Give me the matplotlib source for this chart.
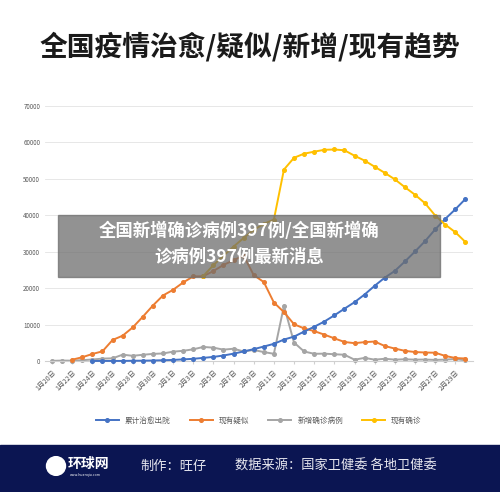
import matplotlib
matplotlib.use("Agg")
import matplotlib.pyplot as plt
import numpy as np
from matplotlib.patches import Rectangle, Circle

plt.rcParams['font.family'] = ['Noto Sans CJK SC', 'DejaVu Sans']

nan = np.nan
dates = ["1月20日","1月21日","1月22日","1月23日","1月24日","1月25日","1月26日","1月27日","1月28日","1月29日",
         "1月30日","1月31日","2月1日","2月2日","2月3日","2月4日","2月5日","2月6日","2月7日","2月8日",
         "2月9日","2月10日","2月11日","2月12日","2月13日","2月14日","2月15日","2月16日","2月17日","2月18日",
         "2月19日","2月20日","2月21日","2月22日","2月23日","2月24日","2月25日","2月26日","2月27日","2月28日",
         "2月29日","3月1日"]
cured = [nan,nan,nan,nan,38,49,51,60,103,124,171,243,328,475,632,892,1153,1540,2050,2649,3281,3996,4740,5911,
         6723,8096,9419,10844,12552,14376,16155,18264,20659,22888,24734,27323,30053,32898,36117,39002,41625,44462]
suspected = [nan,nan,393,1072,1965,2684,5794,6973,9239,12167,15238,17988,19544,21558,23214,23260,24702,26359,
             27657,28942,23589,21675,16067,13435,10109,8969,8228,7264,6242,5248,4922,5206,5365,4148,3434,2824,
             2491,2358,2308,1418,851,715]
new_conf = [77,149,131,259,444,688,769,1771,1459,1737,1982,2102,2590,2829,3235,3887,3694,3143,3399,2656,3062,
            2478,2015,15152,5090,2641,2009,2048,1886,1749,394,889,397,648,409,508,406,433,327,427,573,202]
existing = [nan,nan,nan,nan,nan,nan,nan,nan,nan,nan,nan,nan,nan,nan,nan,23353,26301,28881,31401,
            33738,35982,37626,38800,52526,55748,56873,57416,57934,58016,57805,56303,54965,53284,51606,49824,47672,
            45604,43258,39919,37414,35329,32652]
series_names = ["累计治愈出院", "现有疑似", "新增确诊病例", "现有确诊"]
colors = ["#4472C4", "#ED7D31", "#A5A5A5", "#FFC000"]

fig = plt.figure(figsize=(5, 4.92), dpi=100)
fig.patch.set_facecolor("white")
fig.text(0.5, 0.905, "全国疫情治愈/疑似/新增/现有趋势", ha="center", va="center",
         fontsize=20, fontweight="heavy", color="#1a1a1a")

ax = fig.add_axes([0.09, 0.266, 0.855, 0.519])
x = np.arange(len(dates))
for vals, name, c, z in zip([cured, suspected, new_conf, existing], series_names, colors, [4, 3, 2, 5]):
    ax.plot(x, vals, color=c, lw=1.4, marker="o", ms=2.6, label=name, zorder=z, clip_on=False)
ax.set_ylim(0, 70000)
ax.set_xlim(-0.7, len(dates) - 0.3)
ax.set_yticks(np.arange(0, 70001, 10000))
ax.tick_params(axis="y", length=0, labelsize=4.5, labelcolor="#595959")
ax.grid(axis="y", color="#e3e3e3", lw=0.6)
ax.set_axisbelow(True)
ax.set_xticks(x[::2])
ax.set_xticklabels(dates[::2], rotation=45, ha="right", rotation_mode="anchor", fontsize=5, color="#595959")
ax.tick_params(axis="x", length=2, color="#d0d0d0")
for s in ["top", "right", "left"]:
    ax.spines[s].set_visible(False)
ax.spines["bottom"].set_color("#d0d0d0")
ax.legend(loc="upper center", bbox_to_anchor=(0.5, -0.19), ncol=4, frameon=False, fontsize=5.5,
          handlelength=3, columnspacing=2.5, labelcolor="#595959")

# banner overlay
fig.patches.append(Rectangle((58/500, 1-277/492), 382/500, 62/492, transform=fig.transFigure,
                             color="#6e6e6e", alpha=0.75, zorder=10))
fig.text(0.478, 1-231/492, "全国新增确诊病例397例/全国新增确", ha="center", va="center", fontsize=12.5,
         fontweight="bold", color="white", zorder=11)
fig.text(0.478, 1-257/492, "诊病例397例最新消息", ha="center", va="center", fontsize=12.5,
         fontweight="bold", color="white", zorder=11)

# footer
fig.patches.append(Rectangle((0, 0), 1, 47/492, transform=fig.transFigure, color="#0b1552", zorder=10))
fig.patches.append(Circle((56/500, 1-466/492), 0.019, transform=fig.transFigure, color="white", zorder=11))
fig.text(68/500, 1-464/492, "环球网", ha="left", va="center", fontsize=10, fontweight="bold", color="white", zorder=11)
fig.text(70/500, 1-475/492, "www.huanqiu.com", ha="left", va="center", fontsize=2.5, color="white", zorder=11)
fig.text(140/500, 1-466/492, "制作：旺仔", ha="left", va="center", fontsize=9.5, color="#e8e8f0", zorder=11)
fig.text(235/500, 1-466/492, "数据来源：国家卫健委 各地卫健委", ha="left", va="center", fontsize=9.5,
         color="#e8e8f0", zorder=11)

fig.savefig("out.png", dpi=100)
